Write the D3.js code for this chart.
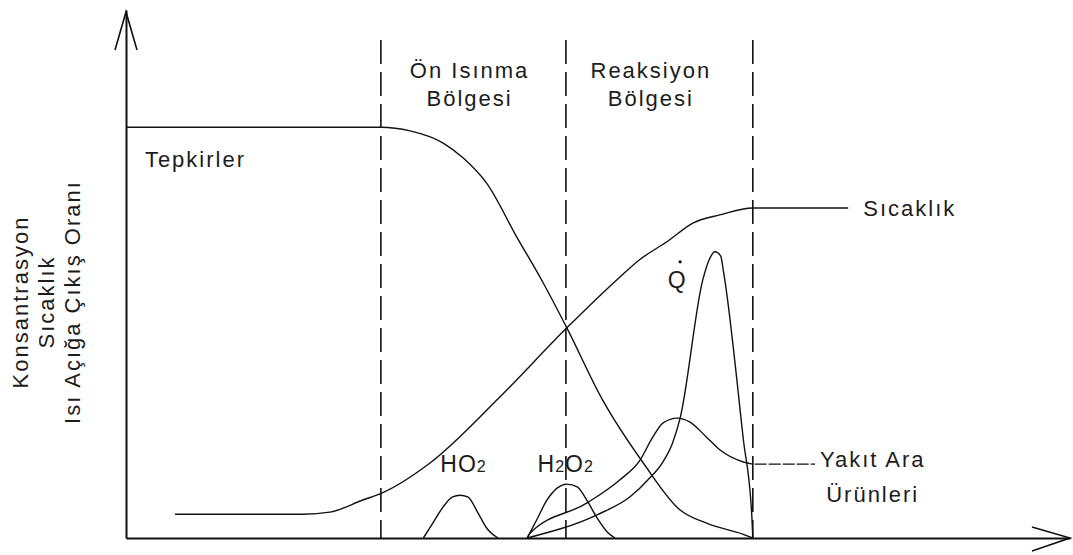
<!DOCTYPE html>
<html><head><meta charset="utf-8">
<script src="https://cdn.jsdelivr.net/npm/d3@7"></script>
<style>
html,body{margin:0;padding:0;background:#fff;}
svg{display:block;}
text{font-family:"Liberation Sans",Arial,sans-serif;fill:#1c1c1c;}
</style></head><body>
<svg id="chart" width="1073" height="555"></svg>
<script>
// ---- data (x: position along flame, y: relative magnitude, 0..100) ----
const zoneBounds = [27.0, 46.6, 66.4];
const zoneLabels = [["Ön Isınma", "Bölgesi"], ["Reaksiyon", "Bölgesi"]];
const yTitleLines = ["Konsantrasyon", "Sıcaklık", "Isı Açığa Çıkış Oranı"];

const tepkirler = [[0,77.8],[27.0,77.8],[30.1,77.1],[33.6,74.8],[35.7,72.0],[38.2,67.2],[41.4,57.0],[44.2,48.3],[46.7,39.8],[50.5,26.1],[54.8,14.2],[58.7,5.3],[61.5,2.8],[65.4,0.7],[66.4,0]];
const sicaklik = [[5.2,4.5],[18.8,4.5],[21.6,4.9],[25.1,7.2],[27.1,8.5],[32.2,14.2],[39.6,26.7],[46.7,39.8],[52.3,49.4],[54.4,52.7],[57.3,56.1],[60.1,59.7],[62.9,61.2],[66.4,62.5],[76.5,62.5]];
const yakitAra = [[42.5,0],[42.8,0.9],[48.8,6.6],[52.3,11.0],[54.4,14.6],[55.8,19.1],[56.9,21.8],[58.4,22.7],[59.7,22.0],[61.5,19.1],[62.9,16.7],[65.4,14.4],[66.4,14.0]];
const yakitConnector = [[66.6,14.0],[73.0,14.0]];
const isiQ = [[42.5,0],[49.9,4.4],[53.4,7.8],[55.5,11.4],[56.8,14.2],[57.9,18.0],[58.7,22.7],[61.1,48.9],[61.8,52.8],[62.4,54.2],[63.0,53.4],[63.3,50.4],[65.4,18.6],[66.3,4.0],[66.4,0]];
const ho2 = [[31.5,0],[32.5,2.8],[33.6,5.9],[34.6,7.8],[35.4,8.1],[36.2,7.8],[37.3,4.7],[38.2,1.9],[39.4,0]];
const h2o2 = [[42.5,0],[43.5,3.4],[44.6,7.2],[45.7,9.5],[46.7,10.2],[47.8,9.7],[48.8,7.2],[49.9,3.8],[51.0,1.1],[51.8,0]];

// ---- drawing ----
const svg = d3.select("#chart");
const x = d3.scaleLinear().domain([0, 100]).range([126, 1070]);
const y = d3.scaleLinear().domain([0, 100]).range([538, 10]);
const ink = "#111";

// axes (no ticks)
const gx = svg.append("g").attr("transform", `translate(0,${y(0)})`)
  .call(d3.axisBottom(x).tickValues([]).tickSizeOuter(0));
const gy = svg.append("g").attr("transform", `translate(${x(0)},0)`)
  .call(d3.axisLeft(y).tickValues([]).tickSizeOuter(0));
[gx, gy].forEach(g => g.select(".domain").attr("stroke", ink).attr("stroke-width", 2));

// arrowheads
svg.append("path")
  .attr("d", `M${x(0)-11},${y(100)+40} L${x(0)},${y(100)+2} L${x(0)+11},${y(100)+40}`)
  .attr("fill", "none").attr("stroke", ink).attr("stroke-width", 1.6);
svg.append("path")
  .attr("d", `M${x(100)-38},${y(0)-11} L${x(100)},${y(0)} L${x(100)-38},${y(0)+13}`)
  .attr("fill", "none").attr("stroke", ink).attr("stroke-width", 1.6);

// zone boundaries
svg.selectAll("line.zone").data(zoneBounds).enter().append("line")
  .attr("class", "zone")
  .attr("x1", d => x(d)).attr("x2", d => x(d))
  .attr("y1", y(94.3)).attr("y2", y(0))
  .attr("stroke", ink).attr("stroke-width", 1.6)
  .attr("stroke-dasharray", "24,8");

// curves
const line = d3.line().x(d => x(d[0])).y(d => y(d[1])).curve(d3.curveMonotoneX);
[tepkirler, sicaklik, yakitAra, isiQ, ho2, h2o2].forEach(s => {
  svg.append("path").attr("d", line(s)).attr("fill", "none")
    .attr("stroke", ink).attr("stroke-width", 1.4);
});
svg.append("path").attr("d", d3.line().x(d => x(d[0])).y(d => y(d[1]))(yakitConnector))
  .attr("fill", "none").attr("stroke", ink).attr("stroke-width", 1.4)
  .attr("stroke-dasharray", "12,2");

// text labels
const font = {size: "22px", ls: "2px"};
function label(txt, px, py, anchor) {
  return svg.append("text").attr("x", px).attr("y", py)
    .attr("text-anchor", anchor || "start")
    .style("font-size", font.size).style("letter-spacing", font.ls).text(txt);
}
label("Tepkirler", x(2.0), y(70.3));
label("Sıcaklık", x(78.1), y(61.0));
const zoneCenters = [36.4, 55.6];
zoneLabels.forEach((ls, i) => {
  label(ls[0], x(zoneCenters[i]), y(87.1), "middle");
  label(ls[1], x(zoneCenters[i]), y(81.8), "middle");
});
label("Yakıt Ara", x(79.1), y(13.4), "middle");
label("Ürünleri", x(79.1), y(6.8), "middle");

// HO2, H2O2 with subscripts
function chem(parts, px, py) {
  const t = svg.append("text").attr("x", px).attr("y", py)
    .style("font-size", "23px").style("letter-spacing", "1px");
  parts.forEach(p => {
    t.append("tspan").text(p[0]).style("font-size", p[1] ? "16px" : "23px");
  });
}
chem([["HO", 0], ["2", 1]], x(33.3), y(12.5));
chem([["H", 0], ["2", 1], ["O", 0], ["2", 1]], x(43.6), y(12.5));

// Q-dot
label("Q", x(57.4), y(47.3)).style("font-size", "23px");
svg.append("circle").attr("cx", x(58.7)).attr("cy", y(52.3)).attr("r", 1.7).attr("fill", ink);

// y-axis title
yTitleLines.forEach((t, i) => {
  svg.append("text")
    .attr("transform", `translate(${[28, 54, 80][i]},302) rotate(-90)`)
    .attr("text-anchor", "middle")
    .style("font-size", font.size).style("letter-spacing", font.ls)
    .text(t);
});
</script>
</body></html>
